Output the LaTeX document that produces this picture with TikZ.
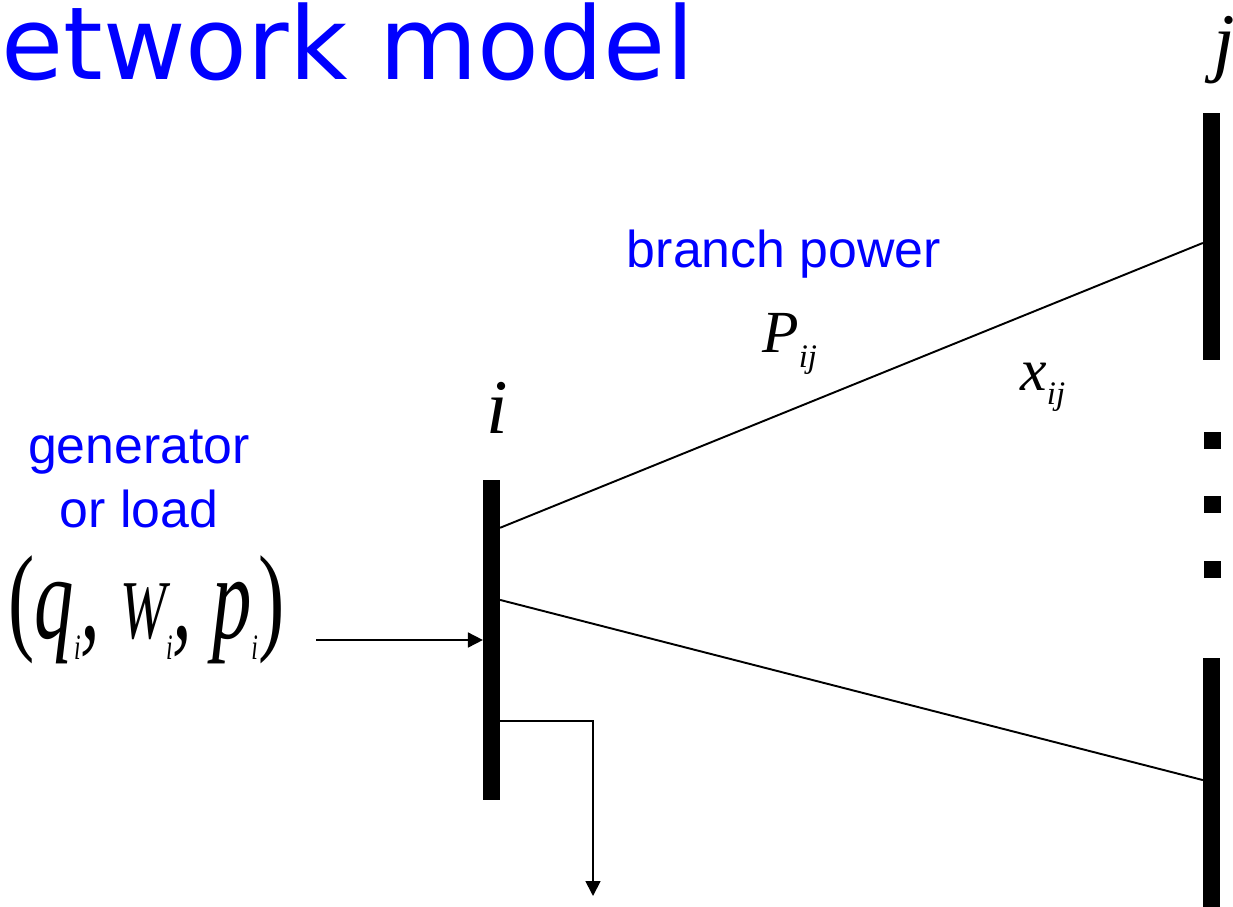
\documentclass[tikz,border=0pt]{standalone}
\usepackage{fontspec}
\usepackage{graphicx}
\setmainfont{Liberation Serif}
\setsansfont{Liberation Sans}
\newfontfamily\slidefont{DejaVu Sans}
\usetikzlibrary{arrows.meta,calc}
\def\wThin{1.0pt}
\def\wLine{1.1pt}
\def\wBus{0.33cm}
\definecolor{cSlide}{HTML}{0000FF}
\definecolor{cInk}{HTML}{000000}
\tikzset{
  diagram/.style={x=0.02cm, y=-0.02cm},
  bus/.style={fill=cInk, inner sep=0pt, minimum width=\wBus},
  gapdot/.style={fill=cInk, inner sep=0pt, minimum size=0.33cm},
  branch/.style={draw=cInk, line width=\wLine},
  flow/.style={draw=cInk, line width=\wThin, -{Triangle[length=3mm, width=3mm]}},
  heading/.style={font=\slidefont\fontsize{57.5}{64}\selectfont, text=cSlide, inner sep=0pt},
  caption/.style={font=\sffamily\fontsize{29.5}{36.3}\selectfont, text=cSlide, inner sep=0pt, align=center},
  busname/.style={font=\rmfamily\itshape\fontsize{44}{48}\selectfont, inner sep=0pt},
  qty/.style={font=\rmfamily\itshape\fontsize{34}{38}\selectfont, inner sep=0pt},
  inject/.style={font=\rmfamily\itshape\fontsize{68}{72}\selectfont, inner sep=0pt},
}
\newcommand{\idx}[3][0.55]{\raisebox{#2}{\scalebox{#1}{#3}}}

\begin{document}
\begin{tikzpicture}[diagram]
\useasboundingbox (0,0) rectangle (1233,906);
% buses i, j and the one below the gap
\node[bus, minimum height=6.4cm] (busi) at (491.5,640) {};
\node[bus, minimum height=4.94cm] (busj) at (1211.5,236.5) {};
\node[bus, minimum height=5.24cm] (busk) at (1211.5,789) {};
\foreach \y [count=\n] in {440.5,504.5,569.5}
  \node[gapdot] (gap\n) at (1212.5,\y) {};
\coordinate (inflow) at (316,640);
\coordinate (outflow) at (593,896);
\draw[branch] ($(busi.north east)!0.15!(busi.south east)$) -- ($(busj.north west)!0.526!(busj.south west)$);
\draw[branch] ($(busi.north east)!0.375!(busi.south east)$) -- ($(busk.north west)!0.466!(busk.south west)$);
\draw[flow] (inflow) -- (busi.west);
\draw[flow] ($(busi.north east)!0.753!(busi.south east)$) -| (outflow);
% labels
\node[heading, anchor=base west] (title) at (1,79) {etwork model};
\node[caption, anchor=base] (brpower) at (784,267) {branch power};
\node[caption, anchor=base] (genload) at (139,527) {generator\\or load};
\node[busname, anchor=base] (namei) at (497,433) {i};
\node[busname, anchor=base] (namej) at (1224,67) {j};
\node[qty, anchor=base west] (flowp) at (762,352) {P\idx{-9pt}{ij}};
\node[qty, anchor=base west] (reactx) at (1020,390) {x\idx{-8pt}{ij}};
\node[inject, anchor=base west] (qwp) at (8,638)
  {\scalebox{0.66}[1]{\textup{(}q\idx[0.3]{-12pt}{i}, \scalebox{0.7}{W}\idx[0.3]{-12pt}{i}, p\idx[0.3]{-12pt}{i}\textup{)}}};
\end{tikzpicture}
\end{document}
